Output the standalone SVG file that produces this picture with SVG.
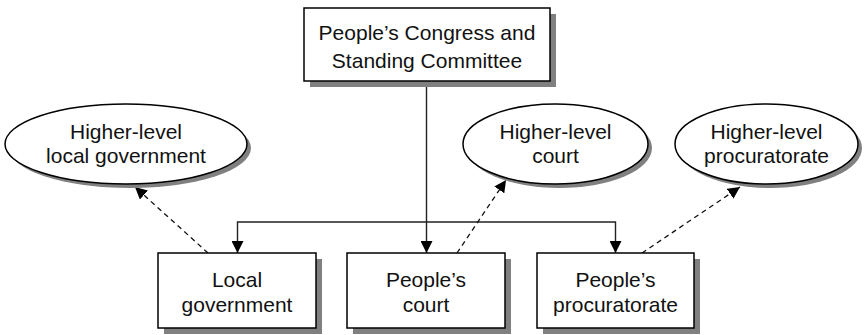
<svg xmlns="http://www.w3.org/2000/svg" width="867" height="335" viewBox="0 0 867 335">
  <style>
    .box { fill: #ffffff; stroke: #000000; stroke-width: 1.5; }
    .shadow { fill: #808080; stroke: none; }
    .label { font-family: "Liberation Sans", Arial, Helvetica, sans-serif; font-size: 21px; fill: #111111; text-anchor: middle; }
    .solid { fill: none; stroke: #222222; stroke-width: 1.4; }
    .dashed { fill: none; stroke: #111111; stroke-width: 1.3; stroke-dasharray: 5 4; }
  </style>
  <defs>
    <marker id="arrow" markerUnits="userSpaceOnUse" markerWidth="13" markerHeight="12" viewBox="0 0 13 12" refX="12" refY="6" orient="auto">
      <path d="M0,0 L12,6 L0,12 z" fill="#000000" stroke="none"/>
    </marker>
  </defs>

  <rect width="867" height="335" fill="#ffffff"/>

  <!-- connectors -->
  <g id="connectors">
    <line class="solid" x1="426.5" y1="81" x2="426.5" y2="253" marker-end="url(#arrow)"/>
    <path class="solid" d="M426.5,222 H237.5 V253" marker-end="url(#arrow)"/>
    <path class="solid" d="M426.5,222 H615.5 V253" marker-end="url(#arrow)"/>
    <line class="dashed" x1="208" y1="253" x2="135" y2="187" marker-end="url(#arrow)"/>
    <line class="dashed" x1="457" y1="253" x2="506" y2="180" marker-end="url(#arrow)"/>
    <line class="dashed" x1="642" y1="253" x2="740" y2="187" marker-end="url(#arrow)"/>
  </g>

  <!-- top node -->
  <g id="congress">
    <rect class="shadow" x="310" y="14" width="246" height="73"/>
    <rect class="box" x="304" y="8" width="246" height="73"/>
    <text class="label" x="427" y="39.5">People’s Congress and</text>
    <text class="label" x="427" y="67.5">Standing Committee</text>
  </g>

  <!-- higher-level bodies -->
  <g id="higher-government">
    <ellipse class="shadow" cx="130" cy="148" rx="121" ry="40"/>
    <ellipse class="box" cx="126" cy="144" rx="121" ry="40"/>
    <text class="label" x="126" y="139">Higher-level</text>
    <text class="label" x="126" y="163">local government</text>
  </g>

  <g id="higher-court">
    <ellipse class="shadow" cx="559.5" cy="148" rx="92.5" ry="40"/>
    <ellipse class="box" cx="555.5" cy="144" rx="92.5" ry="40"/>
    <text class="label" x="555.5" y="139">Higher-level</text>
    <text class="label" x="555.5" y="163">court</text>
  </g>

  <g id="higher-procuratorate">
    <ellipse class="shadow" cx="770.5" cy="148" rx="91.5" ry="40"/>
    <ellipse class="box" cx="766.5" cy="144" rx="91.5" ry="40"/>
    <text class="label" x="766.5" y="139">Higher-level</text>
    <text class="label" x="766.5" y="163">procuratorate</text>
  </g>

  <!-- local bodies -->
  <g id="local-government">
    <rect class="shadow" x="164" y="259" width="158" height="75"/>
    <rect class="box" x="158" y="253" width="158" height="75"/>
    <text class="label" x="237" y="287">Local</text>
    <text class="label" x="237" y="312">government</text>
  </g>

  <g id="peoples-court">
    <rect class="shadow" x="353" y="259" width="158" height="75"/>
    <rect class="box" x="347" y="253" width="158" height="75"/>
    <text class="label" x="426" y="287">People’s</text>
    <text class="label" x="426" y="312">court</text>
  </g>

  <g id="peoples-procuratorate">
    <rect class="shadow" x="543" y="259" width="157" height="75"/>
    <rect class="box" x="537" y="253" width="157" height="75"/>
    <text class="label" x="615.5" y="287">People’s</text>
    <text class="label" x="615.5" y="312">procuratorate</text>
  </g>
</svg>
